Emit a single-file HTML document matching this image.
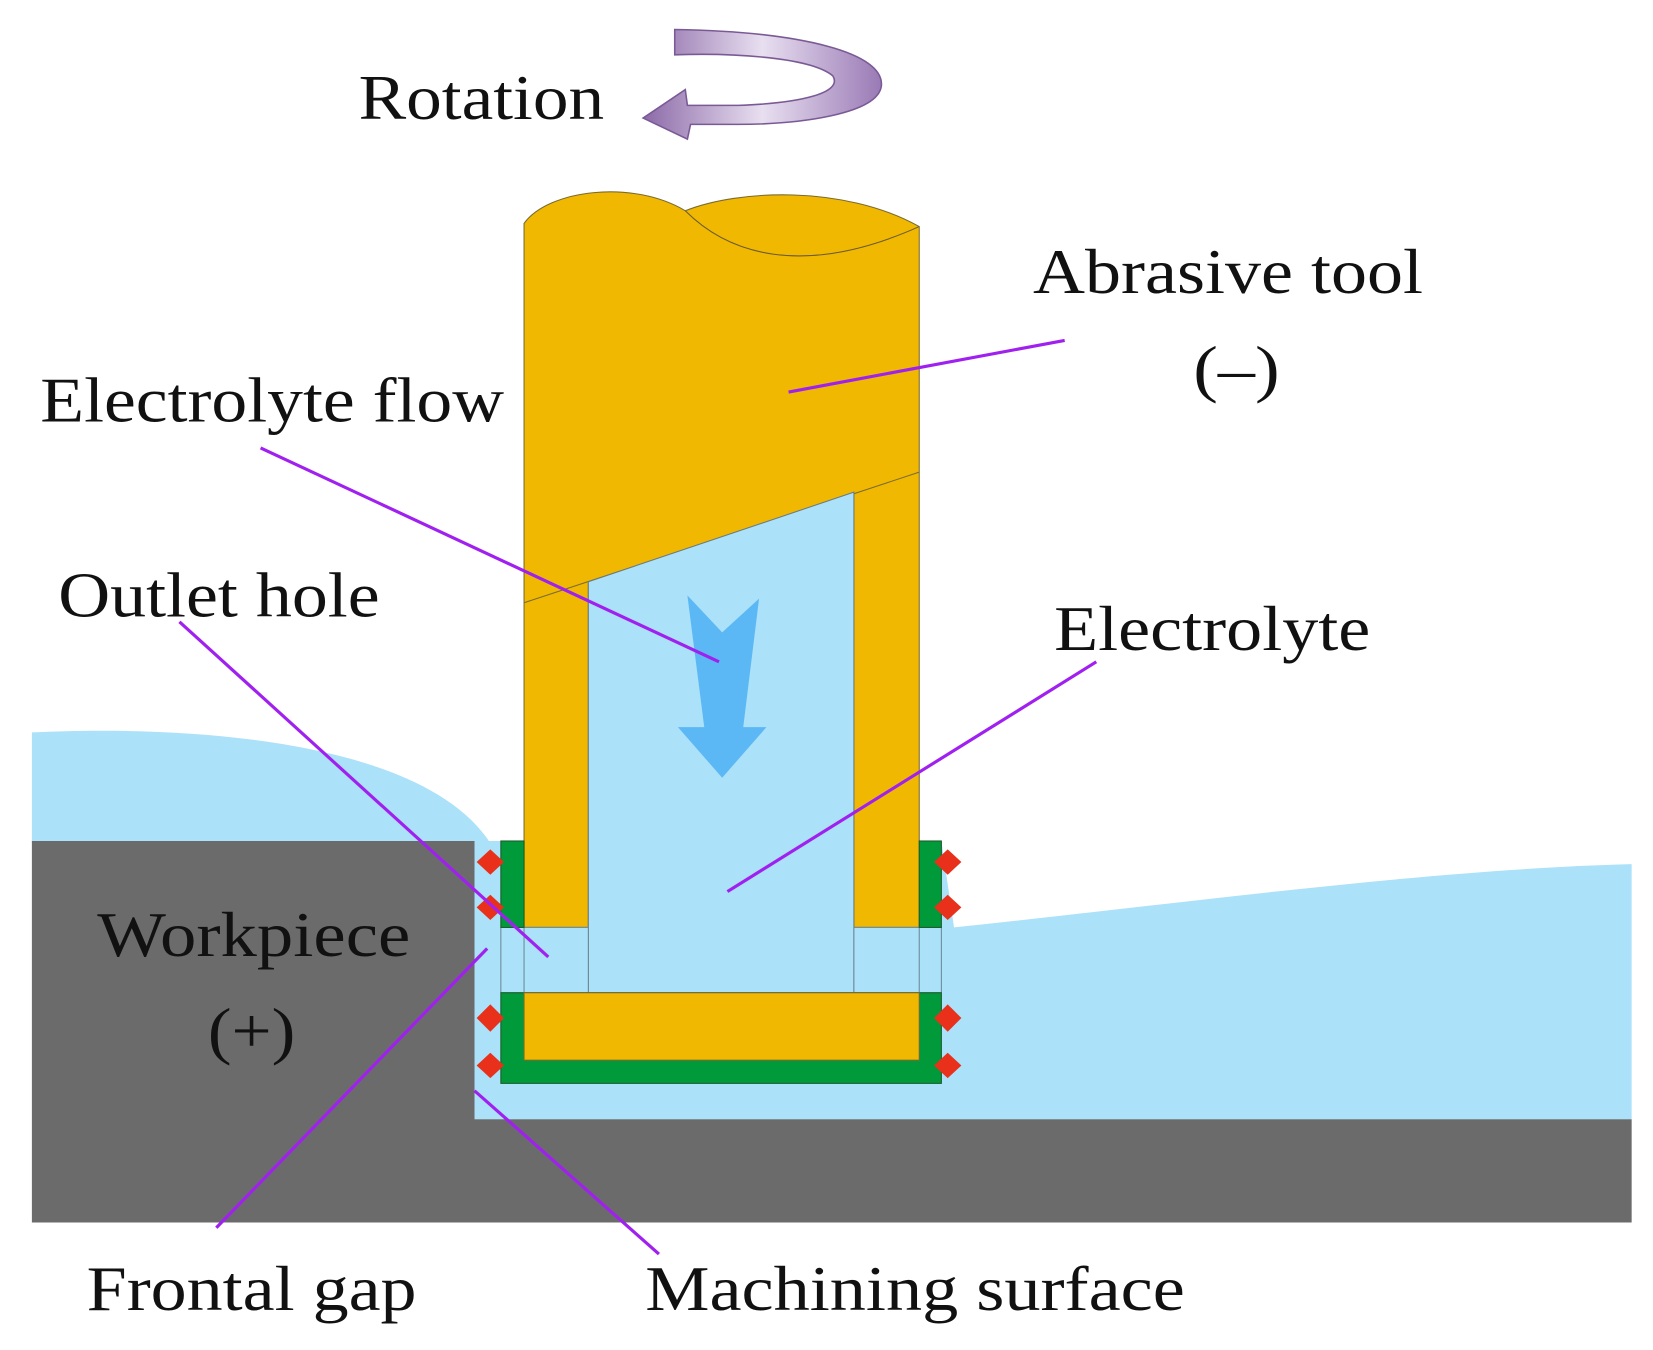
<!DOCTYPE html>
<html><head><meta charset="utf-8"><style>html,body{margin:0;padding:0;background:#fff}svg{display:block}</style></head>
<body>
<svg width="1653" height="1350" viewBox="0 0 1568 1281" xmlns="http://www.w3.org/2000/svg" font-family="'Liberation Serif', serif">
<defs>
<linearGradient id="pg" x1="0" y1="0" x2="1" y2="0">
<stop offset="0" stop-color="#8c6aa8"/><stop offset="0.5" stop-color="#e8dff0"/><stop offset="1" stop-color="#9a7ab5"/>
</linearGradient>
</defs>
<path d="M30,695 C170,688 400,700 465,800 L30,800 Z" fill="#abe1f9"/>
<path d="M450,798 L893,798 L905,880 C1100,860 1350,825 1548,820 L1548,1062 L450,1062 Z" fill="#abe1f9"/>
<path d="M30,798 L450,798 L450,1062 L1548,1062 L1548,1160 L30,1160 Z" fill="#6b6b6b"/>
<path d="M640,28 C760,30 840,50 836,82 C832,108 760,118 700,118 L655,118 L652,132 L610,112 L650,85 L652,100 L700,100 C760,98 800,88 790,72 C770,55 700,50 640,52 Z" fill="url(#pg)" stroke="#7a5a95" stroke-width="1.5"/>
<path d="M497,212 C520,180 600,170 650,200 C700,180 800,175 872,215 L872,880 L810,880 L810,470 L558,552 L558,880 L497,880 Z" fill="#f0b800" stroke="#7a6a30" stroke-width="1"/>
<path d="M650,200 C690,240 760,265 872,215" fill="none" stroke="#6a5a30" stroke-width="1"/>
<path d="M497,572 L872,448" stroke="#7a6a30" stroke-width="1"/>
<path d="M558,552 L810,467 L810,942 L558,942 Z" fill="#abe1f9" stroke="#6a7a80" stroke-width="1"/>
<rect x="475" y="880" width="83" height="62" fill="#abe1f9" stroke="#6a8a98" stroke-width="1"/>
<rect x="810" y="880" width="83" height="62" fill="#abe1f9" stroke="#6a8a98" stroke-width="1"/>
<line x1="497" y1="880" x2="497" y2="942" stroke="#6a8a98"/>
<line x1="872" y1="880" x2="872" y2="942" stroke="#6a8a98"/>
<rect x="475" y="798" width="22" height="82" fill="#009a3a" stroke="#1a5a2a"/>
<rect x="872" y="798" width="21" height="82" fill="#009a3a" stroke="#1a5a2a"/>
<rect x="475" y="942" width="418" height="86" fill="#009a3a" stroke="#1a5a2a"/>
<rect x="497" y="942" width="375" height="64" fill="#f0b800" stroke="#7a6a30"/>
<g fill="#e8301a">
<path d="M452,818 L465,806 L478,818 L465,830 Z"/><path d="M452,861 L465,849 L478,861 L465,873 Z"/>
<path d="M452,966 L465,953 L478,966 L465,979 Z"/><path d="M452,1011 L465,999 L478,1011 L465,1023 Z"/>
<path d="M886,818 L899,806 L912,818 L899,830 Z"/><path d="M886,861 L899,849 L912,861 L899,873 Z"/>
<path d="M886,966 L899,953 L912,966 L899,979 Z"/><path d="M886,1011 L899,999 L912,1011 L899,1023 Z"/>
</g>
<path d="M652,565 L685,600 L720,568 L705,690 L727,690 L685,738 L643,690 L668,690 Z" fill="#5cb8f5"/>
<g stroke="#a020f0" stroke-width="3">
<line x1="748" y1="372" x2="1010" y2="323"/>
<line x1="247" y1="425" x2="682" y2="628"/>
<line x1="170" y1="590" x2="520" y2="908"/>
<line x1="1040" y1="628" x2="690" y2="846"/>
<line x1="205" y1="1165" x2="462" y2="900"/>
<line x1="625" y1="1190" x2="450" y2="1035"/>
</g>
<g font-size="60" fill="#111" lengthAdjust="spacingAndGlyphs">
<text x="340" y="113" textLength="233" lengthAdjust="spacingAndGlyphs">Rotation</text>
<text x="980" y="278" textLength="370" lengthAdjust="spacingAndGlyphs">Abrasive tool</text>
<text x="1132" y="370" textLength="82" lengthAdjust="spacingAndGlyphs">(–)</text>
<text x="38" y="400" textLength="440" lengthAdjust="spacingAndGlyphs">Electrolyte flow</text>
<text x="55" y="585" textLength="305" lengthAdjust="spacingAndGlyphs">Outlet hole</text>
<text x="1000" y="617" textLength="300" lengthAdjust="spacingAndGlyphs">Electrolyte</text>
<text x="92" y="907" textLength="297" lengthAdjust="spacingAndGlyphs">Workpiece</text>
<text x="197" y="998" textLength="83" lengthAdjust="spacingAndGlyphs">(+)</text>
<text x="82" y="1243" textLength="313" lengthAdjust="spacingAndGlyphs">Frontal gap</text>
<text x="612" y="1243" textLength="512" lengthAdjust="spacingAndGlyphs">Machining surface</text>
</g>
</svg>
</body></html>
